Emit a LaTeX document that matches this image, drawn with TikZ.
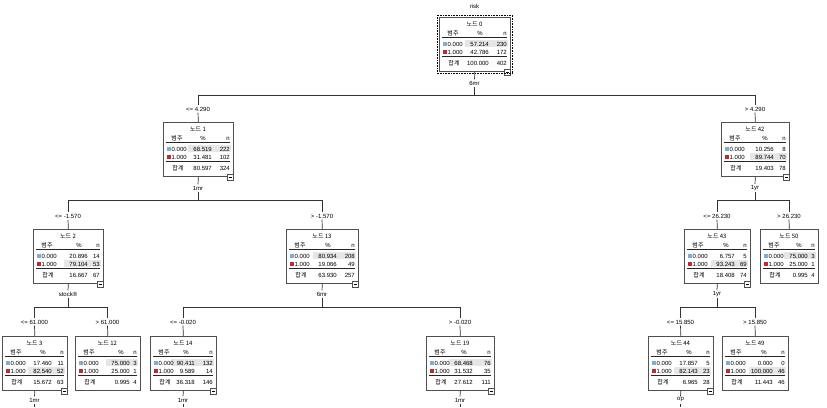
\documentclass[tikz,border=0pt]{standalone}
\usepackage{fontspec}
\setmainfont{Liberation Sans}
\newfontfamily\krf{Noto Sans CJK KR}
\usetikzlibrary{calc}
\definecolor{cblue}{RGB}{125,175,212}
\definecolor{cred}{RGB}{192,40,52}
\definecolor{cgrey}{RGB}{230,230,230}
\definecolor{cline}{RGB}{80,80,80}
\tikzset{
 txt/.style={inner sep=0pt, font=\fontsize{6}{7}\selectfont},
 tbox/.style={draw=cline, line width=0.7pt, fill=white, inner sep=0pt, minimum height=54pt, anchor=north west},
 rulel/.style={draw=black!85, line width=0.8pt},
 conn/.style={draw=black!80, line width=0.7pt},
 lab/.style={txt, inner sep=1.3pt},
 iconbox/.style={draw=cline, fill=white, line width=0.6pt},
}
\def\splitseven#1/#2/#3/#4/#5/#6/#7\relax{\def\dPa{#1}\def\dNa{#2}\def\dPb{#3}\def\dNb{#4}\def\dPt{#5}\def\dNt{#6}\def\dOff{#7}}
% name, L, T, W, title, modal row, icon, data (p0/n0/p1/n1/pt/nt/offset)
\newcommand\tbx[8]{%
 \def\bW{#4}\splitseven#8\relax
 \node[tbox, minimum width=#4pt] (#1) at (#2,#3) {};
 \begin{scope}[shift={(#2,#3)}]
   \ifnum#6=1 \fill[cgrey] ({\bW-\dOff-24},22.8) rectangle ({\bW-2},30.2);\else \fill[cgrey] ({\bW-\dOff-24},30.8) rectangle ({\bW-2},38.2);\fi
   \node[txt] (#1-t) at ({\bW/2},7.5) {\krf 노드 #5};
   \node[txt] (#1-hc) at (14,16) {\krf 범주};
   \node[txt] (#1-hp) at ({\bW-\dOff-9},16) {\%};
   \node[txt, anchor=mid east] (#1-hn) at ({\bW-3},16) {n};
   \draw[rulel] (3,20.5) -- ({\bW-3},20.5);
   \fill[cblue] (3.5,24.5) rectangle (7.5,28.5);
   \node[txt, anchor=mid west] (#1-ca) at (8.5,26.5) {0.000};
   \node[txt, anchor=mid east] (#1-pa) at ({\bW-\dOff},26.5) {\dPa};
   \node[txt, anchor=mid east] (#1-na) at ({\bW-3},26.5) {\dNa};
   \fill[cred] (3.5,32.5) rectangle (7.5,36.5);
   \node[txt, anchor=mid west] (#1-cb) at (8.5,34.5) {1.000};
   \node[txt, anchor=mid east] (#1-pb) at ({\bW-\dOff},34.5) {\dPb};
   \node[txt, anchor=mid east] (#1-nb) at ({\bW-3},34.5) {\dNb};
   \draw[rulel] (3,39.3) -- ({\bW-3},39.3);
   \node[txt] (#1-tc) at (15,46) {\krf 합계};
   \node[txt, anchor=mid east] (#1-pt) at ({\bW-\dOff},46) {\dPt};
   \node[txt, anchor=mid east] (#1-nt) at ({\bW-3},46) {\dNt};
   \ifnum#7=1
     \draw[iconbox] ({\bW-6},52) rectangle (\bW,58);
     \draw[line width=0.6pt] ({\bW-4.5},55) -- ({\bW-1.5},55);
   \fi
 \end{scope}}
\begin{document}
\begin{tikzpicture}[x=1pt,y=-1pt]
\useasboundingbox (0,0) rectangle (827,407);
% boxes
\tbx{n0}{439}{17}{71}{0}{1}{1}{57.214/230/42.786/172/100.000/402/21}
\draw[densely dotted, line width=0.6pt] ($(n0.north west)+(-1.8,-1.8)$) rectangle ($(n0.south east)+(1.8,1.8)$);
\tbx{n1}{163}{122}{70}{1}{1}{1}{68.519/222/31.481/102/80.597/324/21}
\tbx{n42}{721}{122}{68}{42}{2}{1}{10.256/8/89.744/70/19.403/78/15}
\tbx{n2}{33}{229}{70}{2}{2}{1}{20.896/14/79.104/53/16.667/67/15}
\tbx{n13}{286}{229}{72}{13}{1}{1}{80.934/208/19.066/49/63.930/257/21}
\tbx{n43}{684}{229}{66}{43}{2}{1}{6.757/5/93.243/69/18.408/74/15}
\tbx{n50}{760}{229}{58}{50}{1}{0}{75.000/3/25.000/1/0.995/4/10}
\tbx{n3}{2}{336}{65}{3}{2}{1}{17.460/11/82.540/52/15.672/63/15}
\tbx{n12}{75}{336}{65}{12}{1}{0}{75.000/3/25.000/1/0.995/4/10}
\tbx{n14}{150}{336}{66}{14}{1}{1}{90.411/132/9.589/14/36.318/146/21}
\tbx{n19}{426}{336}{68}{19}{1}{1}{68.468/76/31.532/35/27.612/111/21}
\tbx{n44}{648}{336}{65}{44}{2}{1}{17.857/5/82.143/23/6.965/28/15}
\tbx{n49}{722}{336}{66}{49}{2}{0}{0.000/0/100.000/46/11.443/46/15}
% labels
\node[lab] (risk) at (474.5,6) {risk};
\node[lab] (v0) at (474.5,83) {6mr};
\node[lab] (l1) at (198,109) {<= 4.290};
\node[lab] (l42) at (755,109) {> 4.290};
\node[lab] (v1) at (198,188) {1mr};
\node[lab] (v42) at (755,188) {1yr};
\node[lab] (l2) at (68,216) {<= -1.570};
\node[lab] (l13) at (322,216) {> -1.570};
\node[lab] (l43) at (717,216) {<= 26.230};
\node[lab] (l50) at (789,216) {> 26.230};
\node[lab] (v2) at (68,294) {stock®};
\node[lab] (v13) at (322,294) {6mr};
\node[lab] (v43) at (717,294) {1yr};
\node[lab] (l3) at (34.5,322) {<= 61.000};
\node[lab] (l12) at (107.5,322) {> 61.000};
\node[lab] (l14) at (183,322) {<= -0.020};
\node[lab] (l19) at (460,322) {> -0.020};
\node[lab] (l44) at (680.5,322) {<= 15.850};
\node[lab] (l49) at (755,322) {> 15.850};
\node[lab] (v3) at (34.5,400) {1mr};
\node[lab] (v14) at (183,400) {1mr};
\node[lab] (v19) at (460,400) {1mr};
\node[lab] (v44) at (680.5,400) {op};
% junctions
\coordinate (j0) at (474.5,95);
\coordinate (j1) at (198,200);
\coordinate (j42) at (755,200);
\coordinate (j2) at (68,307);
\coordinate (j13) at (322,307);
\coordinate (j43) at (717,307);
\coordinate (e3) at (34.5,407);
\coordinate (e14) at (183,407);
\coordinate (e19) at (460,407);
\coordinate (e44) at (680.5,407);
% connectors
\draw[conn] (n0.south) -- (v0.north);
\draw[conn] (v0.south) -- (j0);
\draw[conn] (j0) -| (l1.north);
\draw[conn] (j0) -| (l42.north);
\draw[conn] (l1.south) -- (n1.north);
\draw[conn] (l42.south) -- (n42.north);
\draw[conn] (n1.south) -- (v1.north);
\draw[conn] (v1.south) -- (j1);
\draw[conn] (j1) -| (l2.north);
\draw[conn] (j1) -| (l13.north);
\draw[conn] (l2.south) -- (n2.north);
\draw[conn] (l13.south) -- (n13.north);
\draw[conn] (n42.south) -- (v42.north);
\draw[conn] (v42.south) -- (j42);
\draw[conn] (j42) -| (l43.north);
\draw[conn] (j42) -| (l50.north);
\draw[conn] (l43.south) -- (n43.north);
\draw[conn] (l50.south) -- (n50.north);
\draw[conn] (n2.south) -- (v2.north);
\draw[conn] (v2.south) -- (j2);
\draw[conn] (j2) -| (l3.north);
\draw[conn] (j2) -| (l12.north);
\draw[conn] (l3.south) -- (n3.north);
\draw[conn] (l12.south) -- (n12.north);
\draw[conn] (n13.south) -- (v13.north);
\draw[conn] (v13.south) -- (j13);
\draw[conn] (j13) -| (l14.north);
\draw[conn] (j13) -| (l19.north);
\draw[conn] (l14.south) -- (n14.north);
\draw[conn] (l19.south) -- (n19.north);
\draw[conn] (n43.south) -- (v43.north);
\draw[conn] (v43.south) -- (j43);
\draw[conn] (j43) -| (l44.north);
\draw[conn] (j43) -| (l49.north);
\draw[conn] (l44.south) -- (n44.north);
\draw[conn] (l49.south) -- (n49.north);
\draw[conn] (n3.south) -- (v3.north);
\draw[conn] (v3.south) -- (e3);
\draw[conn] (n14.south) -- (v14.north);
\draw[conn] (v14.south) -- (e14);
\draw[conn] (n19.south) -- (v19.north);
\draw[conn] (v19.south) -- (e19);
\draw[conn] (n44.south) -- (v44.north);
\draw[conn] (v44.south) -- (e44);
\end{tikzpicture}
\end{document}
